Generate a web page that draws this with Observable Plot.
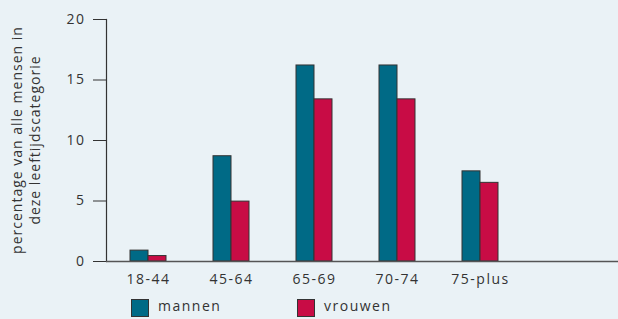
<!DOCTYPE html>
<html>
<head>
<meta charset="utf-8">
<script src="https://cdn.jsdelivr.net/npm/d3@7"></script>
<script src="https://cdn.jsdelivr.net/npm/@observablehq/plot@0.6"></script>
<style>
  html, body { margin: 0; padding: 0; background: #eaf2f6; }
  #wrap { position: relative; width: 618px; height: 319px; overflow: hidden; background: #eaf2f6;
          font-family: "Open Sans", sans-serif; color: #333; }
  #chart { position: absolute; left: 0; top: 0; }
  .lg { position: absolute; font-size: 14px; letter-spacing: 1.5px; color: #333; }
  .sw { position: absolute; width: 18px; height: 18px; box-sizing: border-box; border: 1.5px solid #333; }
  #ytitle { position: absolute; left: 26px; top: 140px; transform: translate(-50%, -50%) rotate(-90deg);
            white-space: pre; text-align: center; font-size: 14px; line-height: 18px; letter-spacing: 1px; color: #333; }
</style>
</head>
<body>
<div id="wrap">
  <div id="chart"></div>
  <div id="ytitle"></div>
  <div id="legend"></div>
</div>
<script>
const categories = ["18-44", "45-64", "65-69", "70-74", "75-plus"];
const mannen = [0.9, 8.7, 16.2, 16.2, 7.45];
const vrouwen = [0.45, 4.95, 13.4, 13.4, 6.5];
const yTicks = [0, 5, 10, 15, 20];
const seriesNames = ["mannen", "vrouwen"];
const colors = ["#006a86", "#c80c45"];
const yLabelLines = ["percentage van alle mensen in", "deze leeftijdscategorie"];

const data = categories.map((c, i) => ({cat: c, m: mannen[i], v: vrouwen[i]}));

const chart = Plot.plot({
  width: 618,
  height: 293,
  marginLeft: 106,
  marginRight: 0,
  marginTop: 19,
  marginBottom: 32,
  style: {fontFamily: "Open Sans, sans-serif", fontSize: "14px", letterSpacing: "1.5px", background: "transparent", color: "#333"},
  x: {type: "band", domain: categories, range: [107, 522], paddingInner: 0.566, paddingOuter: 0.283},
  y: {domain: [0, 20]},
  marks: [
    Plot.barY(data, {x: "cat", y: "m", fill: colors[0], stroke: "#333", strokeWidth: 1, insetRight: 18}),
    Plot.barY(data, {x: "cat", y: "v", fill: colors[1], stroke: "#333", strokeWidth: 1, insetLeft: 18}),
    Plot.axisX({tickSize: 0, tickPadding: 13, label: null, fill: "#333"}),
    Plot.axisY({ticks: yTicks, tickSize: 13, tickPadding: 8, stroke: "#333", fill: "#333", label: null}),
    Plot.frame({anchor: "left", stroke: "#333", strokeWidth: 1.2}),
    Plot.ruleY([0], {stroke: "#555", strokeWidth: 1.5})
  ]
});
document.getElementById("chart").appendChild(chart);

document.getElementById("ytitle").textContent = yLabelLines.join("\n");

const legend = document.getElementById("legend");
const lx = [131, 297];
seriesNames.forEach((name, i) => {
  const sw = document.createElement("div");
  sw.className = "sw";
  sw.style.left = lx[i] + "px";
  sw.style.top = "299px";
  sw.style.background = colors[i];
  legend.appendChild(sw);
  const t = document.createElement("div");
  t.className = "lg";
  t.style.left = (lx[i] + 27) + "px";
  t.style.top = "296px";
  t.textContent = name;
  legend.appendChild(t);
});
</script>
</body>
</html>
